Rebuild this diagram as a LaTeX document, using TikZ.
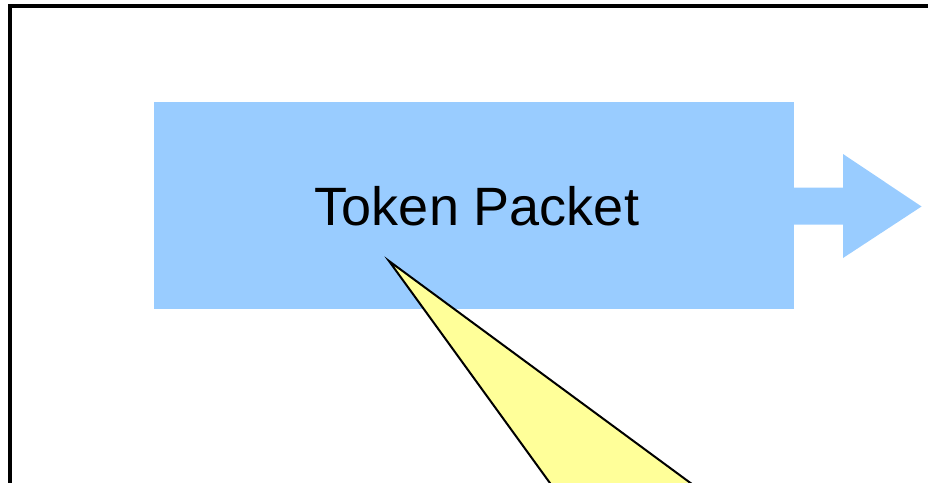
\documentclass[tikz,border=0pt]{standalone}
\usepackage{fontspec}
\setmainfont{Liberation Sans}
\definecolor{boxblue}{HTML}{99CCFF}
\definecolor{calloutyellow}{HTML}{FFFF99}
\tikzset{
  frameline/.style={draw=black, line width=3.2pt},
  packetbox/.style={fill=boxblue, draw=none},
  callout/.style={fill=calloutyellow, draw=black, line width=2pt, line join=miter},
}
\begin{document}
\begin{tikzpicture}[x=1pt,y=-1pt]
\useasboundingbox (0,0) rectangle (928,482);
\clip (0,0) rectangle (928,482);
% outer frame (extends beyond the visible area)
\draw[frameline] (10,6) rectangle (960,520);
% token packet box
\path[packetbox] (154,102) rectangle (794,309);
\node[anchor=base, inner sep=0pt, font=\fontsize{54}{62}\selectfont] (label) at (477,225) {Token Packet};
% arrow
\path[packetbox] (793,187.5) -- (843,187.5) -- (843,154) -- (921.5,206.5) -- (843,258) -- (843,224.5) -- (793,224.5) -- cycle;
% callout triangle
\coordinate (apex) at (389,261);
\coordinate (bl) at (555,490);
\coordinate (br) at (700,490);
\draw[callout] (bl) -- (apex) -- (br);
\end{tikzpicture}
\end{document}
